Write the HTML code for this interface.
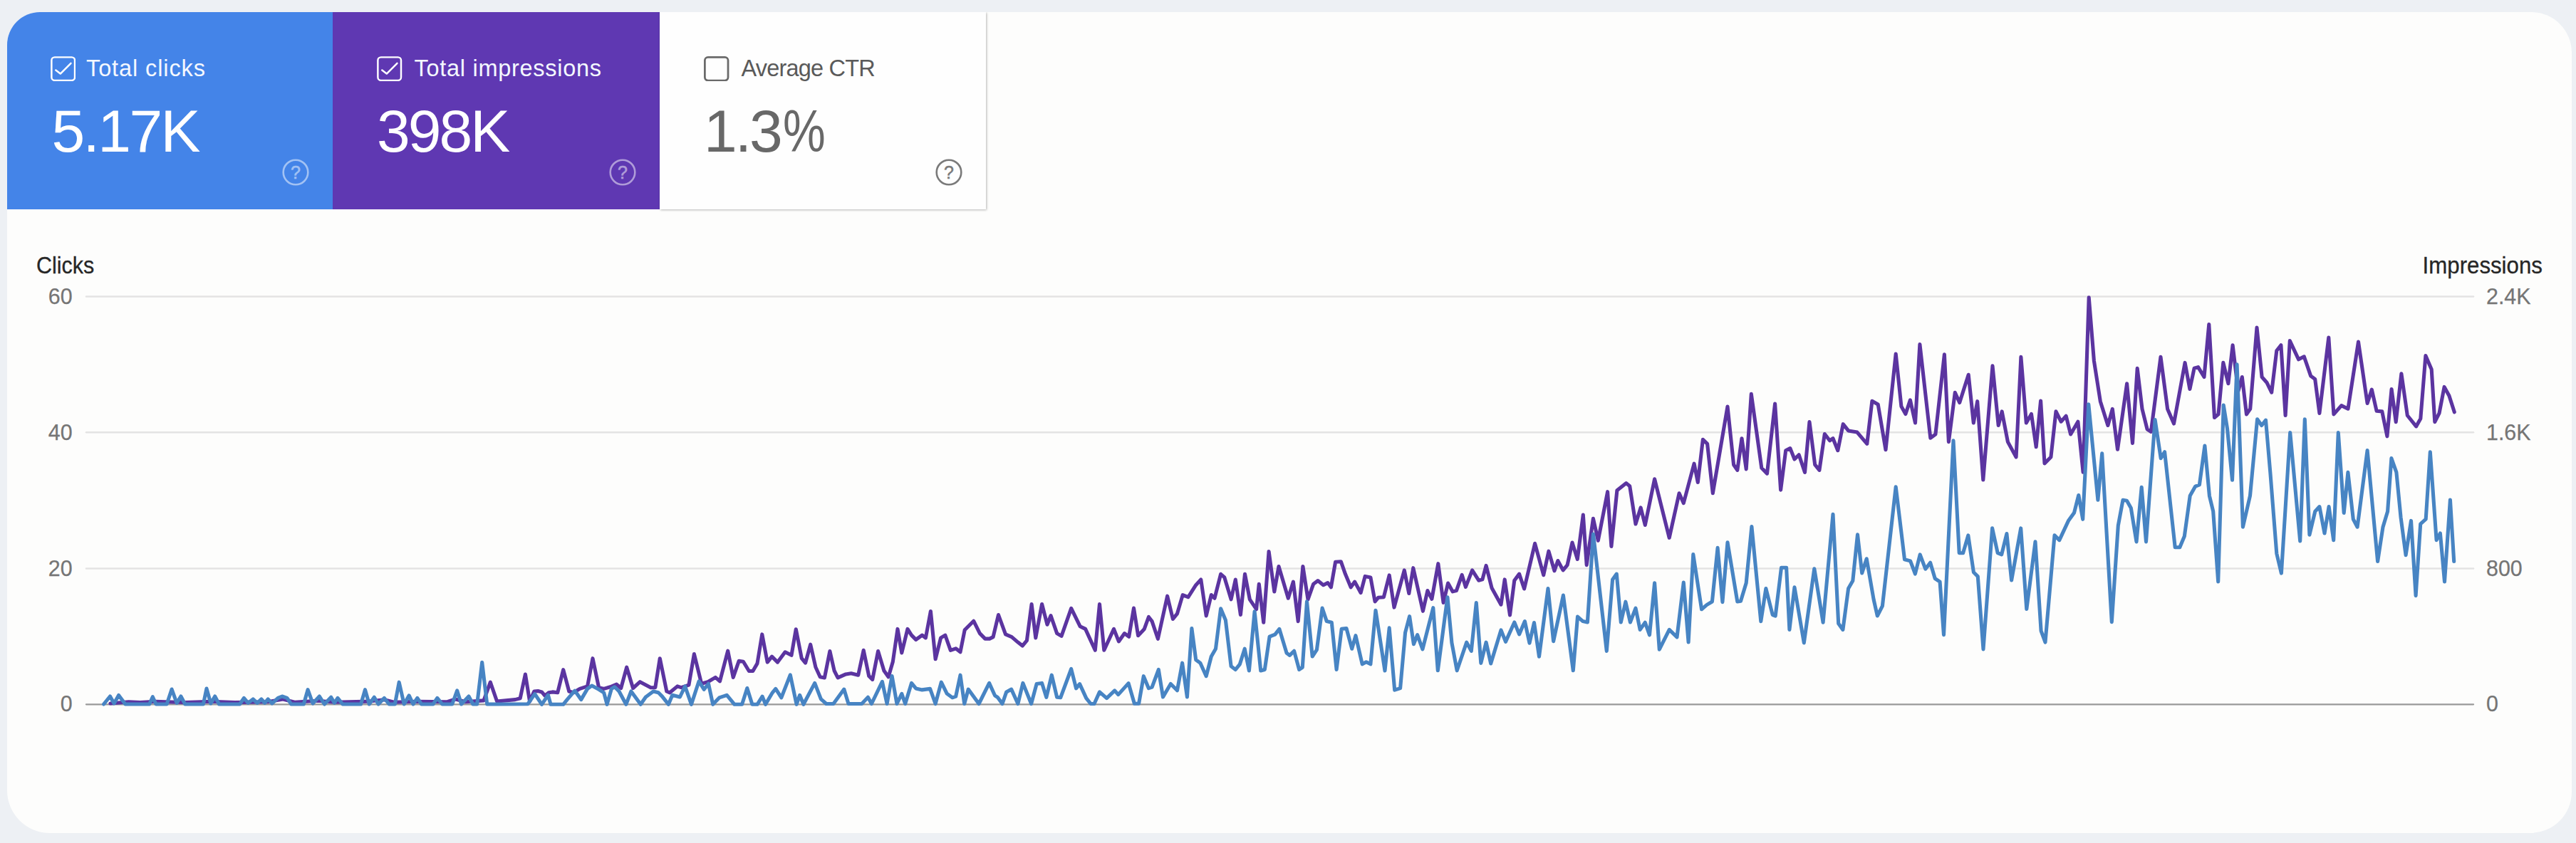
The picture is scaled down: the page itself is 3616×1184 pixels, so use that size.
<!DOCTYPE html>
<html lang="en">
<head>
<meta charset="utf-8">
<title>Search performance</title>
<style>
*{box-sizing:border-box;margin:0;padding:0}
html,body{width:3616px;height:1184px;overflow:hidden}
body{background:#edf0f4;font-family:"Liberation Sans",sans-serif;position:relative}
.card{position:absolute;left:10px;top:17px;width:3600px;height:1153px;background:#fdfdfc;border-radius:46px 57px 58px 60px;overflow:hidden}
.tile{position:absolute;top:0;height:277px}
.t1{left:0;width:457px;background:#4484e8}
.t2{left:457px;width:459px;background:#5f38b2}
.t3{left:916px;width:458px;background:#fefefe;box-shadow:1px 1px 3px rgba(0,0,0,.28)}
.lbl{position:absolute;left:113.5px;top:59px;font-size:32.5px;line-height:40px;color:#f4f8ff;white-space:nowrap}
.val{position:absolute;left:62px;top:118.5px;font-size:84px;line-height:96px;letter-spacing:-3px;color:#fff;white-space:nowrap}
.t1 .lbl{left:111px;letter-spacing:.9px}
.t1 .val{left:62.5px;letter-spacing:-2.6px}
.t2 .lbl{letter-spacing:.72px;left:114.5px}
.t3 .lbl{color:#5a5a5a;letter-spacing:-.8px;left:114.5px}
.t3 .val{color:#686868;letter-spacing:-3px}
.pc{display:inline-block;transform:scaleX(.8);transform-origin:0 50%;margin-left:3px}
.cb{position:absolute;left:62.4px;top:61.8px;width:35.4px;height:35.4px}
.t1 .cb{left:60.6px}
.help{position:absolute;left:387px;top:204.5px;width:40px;height:40px}
.t1 .help{left:385px}
.t3 .help{left:386px}
.axt{position:absolute;font-size:33px;line-height:40px;color:#262626;white-space:nowrap;-webkit-text-stroke:.3px #262626;transform:scaleX(.924)}
.yl{position:absolute;font-size:32px;line-height:40px;color:#757575;white-space:nowrap;-webkit-text-stroke:.25px #757575}
.yl.l{left:0;width:101.6px;text-align:right;transform:scaleX(.95);transform-origin:100% 50%}
.yl.r{left:3489.5px;transform:scaleX(.95);transform-origin:0 50%}
svg.chart{position:absolute;left:0;top:0}
</style>
</head>
<body>
<div class="card">
  <div class="tile t1">
    <svg class="cb" viewBox="0 0 36 36"><rect x="1.4" y="1.4" width="33.2" height="33.2" rx="4.5" fill="none" stroke="#fff" stroke-width="2.5"/><path d="M7.4 19.8 L14 25 L29 10" fill="none" stroke="#fff" stroke-width="2.5" stroke-linecap="round" stroke-linejoin="round"/></svg>
    <div class="lbl">Total clicks</div>
    <div class="val">5.17K</div>
    <svg class="help" viewBox="0 0 40 40"><g opacity="0.5"><circle cx="20" cy="20" r="17.3" fill="none" stroke="#fff" stroke-width="2.6"/><text x="20" y="28.6" text-anchor="middle" font-family="Liberation Sans, sans-serif" font-size="25" fill="#fff" stroke="#fff" stroke-width=".5">?</text></g></svg>
  </div>
  <div class="tile t2">
    <svg class="cb" viewBox="0 0 36 36"><rect x="1.4" y="1.4" width="33.2" height="33.2" rx="4.5" fill="none" stroke="#fff" stroke-width="2.5"/><path d="M7.4 19.8 L14 25 L29 10" fill="none" stroke="#fff" stroke-width="2.5" stroke-linecap="round" stroke-linejoin="round"/></svg>
    <div class="lbl">Total impressions</div>
    <div class="val">398K</div>
    <svg class="help" viewBox="0 0 40 40"><g opacity="0.5"><circle cx="20" cy="20" r="17.3" fill="none" stroke="#fff" stroke-width="2.6"/><text x="20" y="28.6" text-anchor="middle" font-family="Liberation Sans, sans-serif" font-size="25" fill="#fff" stroke="#fff" stroke-width=".5">?</text></g></svg>
  </div>
  <div class="tile t3">
    <svg class="cb" viewBox="0 0 36 36"><rect x="1.4" y="1.4" width="33.2" height="33.2" rx="4.5" fill="none" stroke="#6a6a6a" stroke-width="2.8"/></svg>
    <div class="lbl">Average CTR</div>
    <div class="val">1.3<span class="pc">%</span></div>
    <svg class="help" viewBox="0 0 40 40"><g opacity="1"><circle cx="20" cy="20" r="17.3" fill="none" stroke="#7a7a7a" stroke-width="2.6"/><text x="20" y="28.6" text-anchor="middle" font-family="Liberation Sans, sans-serif" font-size="25" fill="#7a7a7a" stroke="#7a7a7a" stroke-width=".5">?</text></g></svg>
  </div>
</div>

<svg class="chart" width="3616" height="1184" viewBox="0 0 3616 1184">
  <g stroke="#e4e3e3" stroke-width="2.5" stroke-linecap="round">
    <line x1="121" y1="416.4" x2="3472" y2="416.4"/>
    <line x1="121" y1="607.2" x2="3472" y2="607.2"/>
    <line x1="121" y1="798.4" x2="3472" y2="798.4"/>
  </g>
  <line x1="121" y1="989.3" x2="3472" y2="989.3" stroke="#999" stroke-width="2.3" stroke-linecap="round"/>
  <path d="M154.9 988 L180.6 985.7 L196.9 986.6 L217.8 985.2 L259.8 986.6 L297 985.2 L329.6 986.6 L376.2 985.7 L397.2 982 L413.5 986.2 L446.1 984.3 L469.4 986.2 L516 985.2 L539.3 982.7 L553.2 986.2 L585.8 985.2 L627.8 985.7 L639.4 982 L653.4 985.7 L679 983.9 L688.3 958.2 L697.6 985 L723.1 982.6 L730.2 980.8 L737.4 947 L743.6 985.2 L749.8 971 L755.2 970.6 L760.5 971.9 L764.9 977.2 L770.3 972.8 L775.6 971.9 L782.7 972.8 L790.7 940.7 L798.8 971 L805 972.8 L813.9 967.4 L824.6 963.9 L832 924.7 L840.6 965.7 L847.7 967.4 L856.6 964.8 L865.5 961.2 L871.7 966.5 L879.7 937.2 L888.6 966.5 L898.4 957.7 L913.5 965.7 L919.8 965.7 L926.3 924.7 L935.8 971 L940.2 972.8 L950.9 963.9 L956.2 965.7 L966.9 962.1 L974.4 918.5 L984.7 960.3 L993.6 957.7 L1004.3 951.4 L1010.5 956.8 L1021.7 914.1 L1029.2 951.4 L1037.2 928.3 L1043.4 929.2 L1051.4 942.5 L1056.8 942.5 L1063 931.9 L1069.8 890.9 L1077.2 930.1 L1083.5 922.1 L1091.5 930.1 L1102.1 915.8 L1111 920.3 L1117.3 883.8 L1125.3 924.7 L1130.6 931 L1137.7 905.2 L1144.9 937 L1151.2 950.7 L1157.4 951.9 L1164.9 914.6 L1171.1 942 L1176.1 951.9 L1187.3 946.9 L1194.8 945.7 L1204.7 948.2 L1212.2 913.3 L1219.7 949.4 L1224.7 954.4 L1232.6 914.6 L1240.9 942 L1247.1 950.7 L1253.3 929.5 L1260 883.4 L1265.8 917 L1274 883.4 L1279.5 892.1 L1285.7 898.4 L1294.4 892.1 L1299.4 895.9 L1306.4 858.5 L1313.1 925.8 L1320.6 895.9 L1326.8 892.1 L1334.3 913.3 L1341.7 910.8 L1348 915.8 L1354.2 884.7 L1366.7 872.2 L1375.4 889.6 L1382.8 897.1 L1389.1 897.1 L1394.1 894.6 L1401.5 863.5 L1411.5 890.9 L1420.2 894.6 L1428.9 902.1 L1435.2 907.1 L1441.4 899.6 L1448.1 848.5 L1453.8 895.9 L1462.6 848.5 L1470 877.2 L1475 864.7 L1483.7 889.6 L1490 893.4 L1503.7 854.3 L1516.1 879.7 L1523.6 883.4 L1537.3 913.3 L1543.5 848.5 L1549.8 913.3 L1563.5 883.4 L1570.4 900.9 L1578.5 889.6 L1584.7 894.2 L1591.5 854.1 L1597.6 892.7 L1606.3 883.4 L1612.4 866.5 L1617.1 872.6 L1625.4 897.3 L1638.6 837.2 L1646.4 869.5 L1652.5 861.8 L1660.2 835.6 L1667.9 838.7 L1678.7 821.7 L1685.8 814 L1693.2 864.9 L1700.3 835.6 L1705 840.2 L1713.6 806.3 L1718.8 810.9 L1728.1 841.8 L1734.3 814 L1741.4 863.4 L1747.5 806.3 L1754.3 841.8 L1763.6 855.7 L1767.3 820.2 L1773.7 874.2 L1781.1 774.5 L1788.8 831 L1795 795.5 L1808.3 840.2 L1815.4 817.1 L1822.2 872.6 L1828.9 795.5 L1836 841.8 L1843.7 820.2 L1849.9 815.6 L1857.6 821.7 L1863.8 818.6 L1868.4 824.8 L1874.6 789.3 L1882.3 788.7 L1888.5 806.3 L1896.2 824.8 L1901.7 817.1 L1910.1 832.5 L1916.2 809.4 L1923.9 810.9 L1930.1 844.9 L1934.7 839.3 L1942.4 838.7 L1950.2 807.9 L1957 853.1 L1971.3 800.9 L1977.8 833.5 L1983.8 797.7 L1997.4 858.3 L2003.9 829.6 L2009.9 841.3 L2018.8 791.7 L2026.1 846.5 L2032.6 819.1 L2039.2 830.9 L2044.4 829.6 L2052.2 807.4 L2057.4 824.4 L2066.6 800.9 L2075.7 815.2 L2080.9 813.9 L2086.1 794.4 L2094 825.7 L2107 849.2 L2112.2 813.9 L2119.5 864 L2125.8 815.2 L2132.6 806.1 L2139.6 827 L2154.6 763.3 L2166.7 807.7 L2173.9 774.2 L2182 801.7 L2186.8 787.5 L2194.1 800.9 L2200.1 793.6 L2207 762.1 L2214.3 785.5 L2222.3 723 L2227.2 793.6 L2236.4 728.3 L2243.3 759.3 L2256.6 690.7 L2261.9 767.4 L2269.9 688.7 L2282.8 678.6 L2287.7 682.7 L2296 736 L2303.1 712.9 L2309.3 737.5 L2322.6 672.8 L2343.2 755.4 L2357.1 692.8 L2363.3 706.7 L2378.1 651.2 L2383.3 677.4 L2390.4 617.2 L2396.6 623.4 L2404.3 692.8 L2425 571 L2433.6 652.7 L2438.8 660.4 L2445 615.7 L2451.2 658.9 L2458.3 553.4 L2472.8 657.3 L2480.5 665.1 L2491.6 567 L2499.6 688.2 L2506.7 632.7 L2512.9 629.6 L2519 645 L2525.2 638.8 L2533.5 663.5 L2540 592.6 L2547.7 652.7 L2553.9 660.4 L2561.3 609.5 L2568.4 618.8 L2573 615.7 L2579.8 632.7 L2587.2 595.7 L2594.6 604.9 L2606.9 607.1 L2620.8 623.4 L2627.9 563.3 L2636.2 567.9 L2647 631.7 L2661.2 497 L2668.9 570.8 L2674.9 581.5 L2681.4 561.9 L2688.5 594 L2694.9 483.6 L2709.8 615.3 L2716.9 610 L2729.4 497.9 L2735.4 620.6 L2744.3 551.2 L2750.7 565.5 L2763.2 526.3 L2770.3 594 L2775.7 563.7 L2783.8 674 L2797 513.9 L2805.2 597.5 L2810.2 577.9 L2818.4 620.6 L2830.1 642 L2836.9 501.4 L2844.3 594 L2851.5 581.5 L2858.2 627.8 L2864.6 563 L2870 650.9 L2878.9 642 L2886 577.9 L2893.1 592.2 L2900.2 584.3 L2906.6 610 L2916.9 592.2 L2924.1 663.3 L2932.2 417.8 L2939.4 506.8 L2948.3 563.7 L2958.9 597.5 L2965.3 574.4 L2972.5 631.3 L2985.6 538.8 L2993.5 622.4 L3000.2 517.4 L3007 574.4 L3014.1 602.8 L3019.4 606.4 L3033 501.4 L3042.6 574.4 L3051.5 595 L3067.1 509.4 L3073.9 546.5 L3080.1 517.2 L3085.6 515.6 L3094 529.5 L3100.8 455.5 L3108.5 586.5 L3114 581.9 L3120.8 509.4 L3127.9 538.7 L3134.1 484.8 L3141.8 549.5 L3147.3 529.5 L3153.5 581.9 L3158.7 574.2 L3168 460.1 L3175.1 529.5 L3181.9 537.2 L3188.7 551.1 L3195.8 492.5 L3201.9 484.8 L3208.1 583.5 L3214.3 478.6 L3226.6 504.8 L3234.3 500.8 L3243.6 527.9 L3249.7 532.6 L3255.9 580.4 L3268.8 474 L3275.9 581.9 L3286.7 569.6 L3296 574.2 L3310.5 480.1 L3323.1 566.5 L3329.3 547.1 L3336.1 577.3 L3343.8 577.9 L3350.9 612.8 L3357.1 546.5 L3363.2 592.7 L3370.9 524.9 L3379.3 583.5 L3391.6 598.9 L3397.8 588.1 L3404.9 499.6 L3413.2 518.7 L3417.8 592.7 L3424 580.4 L3431.1 543.4 L3437.9 555.7 L3445.3 578.8" fill="none" stroke="#5b34a0" stroke-width="5.1" stroke-linejoin="round" stroke-linecap="round"/>
  <path d="M145.6 989 L154.5 978 L160.1 988 L166.6 976.4 L175.9 989 L209.7 989 L214.3 978.7 L219 989 L234.1 989 L241.1 968 L248.1 987.3 L253.9 978 L259.8 989 L285.4 989 L290 967.1 L295.9 988 L301.7 978 L307.5 989 L336.6 989 L342.4 980.4 L348.3 987.3 L355.2 982 L361.1 987.3 L366.9 982 L371.6 987.3 L376.2 982 L382 988 L390.2 980.4 L396 978 L403 980.4 L408.8 989 L426.3 989 L432.1 968.7 L439.1 988 L448.4 978 L455.4 989 L464.7 979.2 L469.4 987.3 L474 980.4 L481 989 L506.6 989 L512.5 968.7 L518.3 989 L525.3 979.2 L531.1 989 L539.3 980.4 L546.2 989 L554.4 989 L560.2 958.2 L567.2 989 L574.2 976.9 L580 989 L585.8 980.4 L591.7 989 L608 989 L613.8 980.4 L620.8 989 L634.8 989 L641.7 969.9 L647.6 989 L658 978 L663.9 989 L669.7 989 L676.7 930.3 L683.7 989 L700 989 L740.9 988.8 L750.7 974.6 L760.5 989.3 L769.4 976.3 L773 989.3 L790.7 989.3 L796.1 982.6 L806.8 970.1 L815.7 982.6 L824.6 967.4 L830.8 963 L840.6 968.3 L847.7 972.8 L852.1 989.3 L858.4 967.4 L862.8 964.8 L869 971 L878.8 989.3 L885.9 971 L899.3 989.3 L906.4 979 L917.1 971 L924.2 972.8 L929.5 978.1 L938.4 989.3 L943.8 976.3 L954.4 979 L961.6 963.9 L970.5 989.3 L981.1 956.8 L988.3 968.3 L994.5 960.3 L1000.7 989.3 L1009.6 979.9 L1020.3 976.3 L1031 989.3 L1041.6 989.3 L1048.8 966.5 L1055.9 989.3 L1063 989.3 L1070.1 978.1 L1074.6 989.3 L1084.3 972.8 L1088.8 967.4 L1096.8 979.9 L1109.3 947.9 L1118.1 989.3 L1122.6 976.3 L1127.9 989.3 L1143.7 959.4 L1152.4 981.8 L1159.9 988.5 L1169.9 988.5 L1184.8 968.1 L1191 988.5 L1209.7 988.5 L1218.4 979.3 L1223.4 988.5 L1238.4 957.4 L1245.1 988.5 L1252.1 949.4 L1259 988.5 L1265.8 974.3 L1270.7 988.5 L1279.5 959.4 L1285.7 966.9 L1294.4 968.9 L1305.6 967.4 L1313.1 988.5 L1321.3 958.1 L1329.3 974.3 L1336.8 979.8 L1341.7 978.1 L1348 948.2 L1353.7 988.5 L1359.2 968.1 L1374.1 988.5 L1388.6 959.4 L1396.5 976.8 L1400.3 979.3 L1407 988.5 L1412.7 971.9 L1419.7 968.1 L1428.9 988.5 L1435.9 959.4 L1447.6 988.5 L1455.1 960.6 L1462.6 959.4 L1468.8 979.3 L1476.3 948.2 L1483.7 979.3 L1488.7 979.8 L1503.7 939.5 L1510.6 966.9 L1515.6 960.6 L1524.8 980.6 L1531.1 988.5 L1536 988.5 L1543.5 971.9 L1553.5 980.6 L1564.7 969.9 L1569.7 975.6 L1584.1 959.6 L1592.4 988.3 L1598.6 988.3 L1605.3 949.7 L1612.4 966.7 L1617.1 965.1 L1626.3 940.5 L1632.5 979 L1643.3 960.5 L1652.5 969.8 L1659.6 931.2 L1666.4 979 L1672.9 882.5 L1678.7 926.6 L1684.9 931.2 L1693.2 949.7 L1700.3 922 L1706.5 911.2 L1713.6 854.7 L1720.4 871.1 L1728.1 935.8 L1734.3 940.5 L1740.4 932.8 L1747.2 911.2 L1753.4 942 L1761.1 858.7 L1769.7 942 L1775.3 940.5 L1782.1 894.2 L1789.8 891.1 L1795.9 883.4 L1806.1 917.3 L1810.4 920.4 L1816.6 914.3 L1823.7 940.5 L1828.3 937.4 L1834.5 844.9 L1842.2 922 L1848.4 912.7 L1856.1 854.1 L1862.3 872.6 L1869.3 874.2 L1876.1 940.5 L1883.2 883.4 L1890 882.5 L1897.7 911.2 L1903 892.7 L1912.2 932.8 L1917.8 929.7 L1923.9 932.8 L1931 857.2 L1944 942 L1950.2 881.9 L1957.7 969.2 L1965.6 966.6 L1972.6 888.3 L1978.6 865.6 L1984.4 904.7 L1989.6 891.7 L1996.9 911.8 L2011.8 853.6 L2018.3 941.8 L2031.9 838.7 L2037.9 902.7 L2045.2 941.8 L2058.7 902.1 L2065.3 914.4 L2072.3 846.5 L2078.8 931.4 L2086.1 902.1 L2092.7 931.9 L2107 884.9 L2113.5 901.4 L2125.8 874 L2132.6 890.9 L2140.4 872.6 L2147 903.2 L2153.5 874.5 L2160.5 922.2 L2173 826.5 L2180.6 900.6 L2194.4 836.1 L2208.3 941.8 L2214.5 866.1 L2221.9 872.6 L2228.4 874 L2236.5 750 L2255.3 914.4 L2263.6 813.9 L2269.3 806.1 L2275.3 874 L2281.9 845.2 L2288.4 874 L2296 854.2 L2302.2 884.4 L2309.3 874.3 L2315.5 891.8 L2322.6 818.7 L2329.3 912.2 L2343.2 884.4 L2354 894.9 L2363.3 818.1 L2370.1 902 L2376.8 778.6 L2388.6 855.8 L2395.7 849.6 L2403.4 845 L2411.1 769.4 L2417.9 845.6 L2425 761.7 L2438.8 845 L2443.5 844.3 L2451.2 818.7 L2458.9 739.5 L2471.8 872.7 L2478.9 826.5 L2488.2 863.5 L2492.2 865 L2500.5 797.2 L2507.6 797.2 L2511.9 884.4 L2519 824.9 L2532.3 902.9 L2546.8 798.7 L2559.1 874.3 L2573 722.2 L2580.7 875.8 L2586.9 884.4 L2594.6 826.5 L2600.8 815.7 L2607.5 750.9 L2613.7 804.9 L2620.2 784.8 L2630.1 841.9 L2635.3 865 L2642.4 851.1 L2661.2 683.7 L2673.5 785.7 L2681.6 787.9 L2688.4 806 L2695.2 778.9 L2702.8 799.2 L2709.6 790.2 L2716.3 812.7 L2723.1 817.2 L2728.5 891.6 L2742 618.9 L2750.2 776.7 L2755.6 776.7 L2762.8 751.9 L2770.4 803.7 L2776.3 809.6 L2784 911.9 L2796.6 741.9 L2804.2 776.7 L2809.7 778.9 L2816.9 749.6 L2823.6 815 L2836.7 741.9 L2844.8 855.5 L2857 760.9 L2865.1 886.2 L2871 902 L2884 751.9 L2890.8 758.6 L2903.4 731.6 L2911.5 720.3 L2917.8 695.5 L2923.7 729.3 L2931.8 567.9 L2944.9 702.3 L2950.7 636.9 L2964.3 873.6 L2973.3 738.3 L2980 702.3 L2985.5 703.2 L2991.3 713.5 L2999 760.9 L3006.2 684.2 L3012.5 760.9 L3025.1 589.6 L3033.2 643.7 L3038.6 634.7 L3053.2 768.7 L3059.8 768.7 L3066.3 753.3 L3074.2 696.3 L3081.7 683.1 L3087.4 680.9 L3094.9 626.1 L3101.4 696.3 L3106.7 718.2 L3113.7 817 L3121.2 569 L3126.5 601.9 L3133.5 674.3 L3140.1 511.9 L3148.4 740.2 L3158.5 696.3 L3168.6 588.8 L3174.7 597.5 L3180.5 590.1 L3187 665.6 L3195.8 777.5 L3202.4 805.1 L3214.7 607.6 L3228.7 759.9 L3235.3 588.8 L3241.9 751.2 L3249.8 718.2 L3255.9 711.6 L3263 749 L3269.1 711.6 L3275.7 758.6 L3282.3 607.6 L3290.2 720.4 L3295.9 663.4 L3303.3 729.2 L3309.1 740.2 L3323.1 632.6 L3337.6 788.5 L3345 740.2 L3351.6 718.2 L3356.9 643.6 L3363.9 663.4 L3370.1 727 L3377.1 779.7 L3384.5 731.4 L3391.1 836.7 L3397.7 735.8 L3405.2 729.2 L3411.3 634.8 L3420.1 758.6 L3425.4 749 L3431.5 817 L3439.4 702 L3444.7 788.5" fill="none" stroke="#4784c3" stroke-width="5.1" stroke-linejoin="round" stroke-linecap="round"/>
</svg>

<div class="axt" style="left:51px;top:353px;transform-origin:0 50%">Clicks</div>
<div class="axt" style="right:47.5px;top:353px;transform-origin:100% 50%;transform:scaleX(.946)">Impressions</div>
<div class="yl l" style="top:396.4px">60</div>
<div class="yl l" style="top:587.2px">40</div>
<div class="yl l" style="top:778.4px">20</div>
<div class="yl l" style="top:968.3px">0</div>
<div class="yl r" style="top:396.4px">2.4K</div>
<div class="yl r" style="top:587.2px">1.6K</div>
<div class="yl r" style="top:778.4px">800</div>
<div class="yl r" style="top:968.3px">0</div>
</body>
</html>
